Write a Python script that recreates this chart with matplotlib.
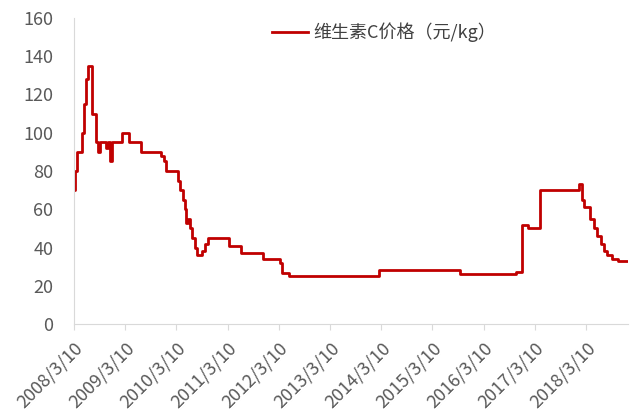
import matplotlib
matplotlib.use("Agg")
import matplotlib.pyplot as plt
import pandas as pd

plt.rcParams['font.family'] = ['Noto Sans CJK SC', 'DejaVu Sans']

# price change points (step series)
dates = ["2008-03-10", "2008-03-17", "2008-03-31", "2008-05-06", "2008-05-20",
         "2008-06-04", "2008-06-18", "2008-07-16", "2008-08-14", "2008-08-28",
         "2008-09-11", "2008-10-24", "2008-11-07", "2008-11-22", "2008-12-06",
         "2009-02-15", "2009-04-06", "2009-07-01", "2009-11-20", "2009-12-12",
         "2009-12-26", "2010-03-22", "2010-04-05", "2010-04-26", "2010-05-10",
         "2010-05-18", "2010-06-01", "2010-06-15", "2010-06-29", "2010-07-21",
         "2010-08-04", "2010-09-09", "2010-09-30", "2010-10-21", "2011-03-20",
         "2011-06-14", "2011-11-18", "2012-03-18", "2012-04-01", "2012-05-21",
         "2014-02-21", "2015-09-21", "2016-10-24", "2016-12-06", "2017-01-18",
         "2017-04-14", "2018-01-17", "2018-02-07", "2018-02-21", "2018-04-05",
         "2018-05-04", "2018-05-25", "2018-06-23", "2018-07-14", "2018-08-04",
         "2018-09-09", "2018-10-22", "2019-01-01"]
prices = [70, 80, 90, 100, 115,
          128, 135, 110, 95, 90,
          95, 92, 95, 85, 95,
          100, 95, 90, 88, 85,
          80, 75, 70, 65, 60,
          53, 55, 50, 45, 40,
          36, 38, 42, 45, 41,
          37, 34, 32, 26.5, 25,
          28, 26, 27, 52, 50,
          70, 73, 65, 61, 55,
          50, 46, 42, 38, 36,
          34, 33, 33]

tick_labels = ["%d/3/10" % y for y in range(2008, 2019)]
tick_dates = pd.to_datetime(["%d-03-10" % y for y in range(2008, 2019)])

fig = plt.figure(figsize=(6.38, 4.16), dpi=100)
ax = fig.add_axes([0.116, 0.221, 0.868, 0.736])

x = pd.to_datetime(dates)
ax.plot(x, prices, drawstyle='steps-post', color='#C00000', lw=2,
        label='维生素C价格（元/kg）')

ax.set_ylim(0, 160)
ax.set_yticks(range(0, 161, 20))
ax.set_xlim(pd.Timestamp("2008-03-10"), pd.Timestamp("2019-01-01"))
ax.set_xticks(tick_dates)
ax.set_xticklabels(tick_labels, rotation=45, ha='right', rotation_mode='anchor')

for s in ['top', 'right']:
    ax.spines[s].set_visible(False)
for s in ['left', 'bottom']:
    ax.spines[s].set_color('#D9D9D9')
ax.tick_params(axis='y', length=0, labelsize=13, colors='#595959', pad=15)
ax.tick_params(axis='x', length=4, direction='out', color='#D9D9D9',
               labelsize=13, labelcolor='#595959', pad=7)

leg = fig.legend(loc='center', bbox_to_anchor=(0.602, 0.923), frameon=False,
                 fontsize=13, handlelength=2.0, handletextpad=0.3)
for t in leg.get_texts():
    t.set_color('#404040')

fig.savefig("out.png", dpi=100)
